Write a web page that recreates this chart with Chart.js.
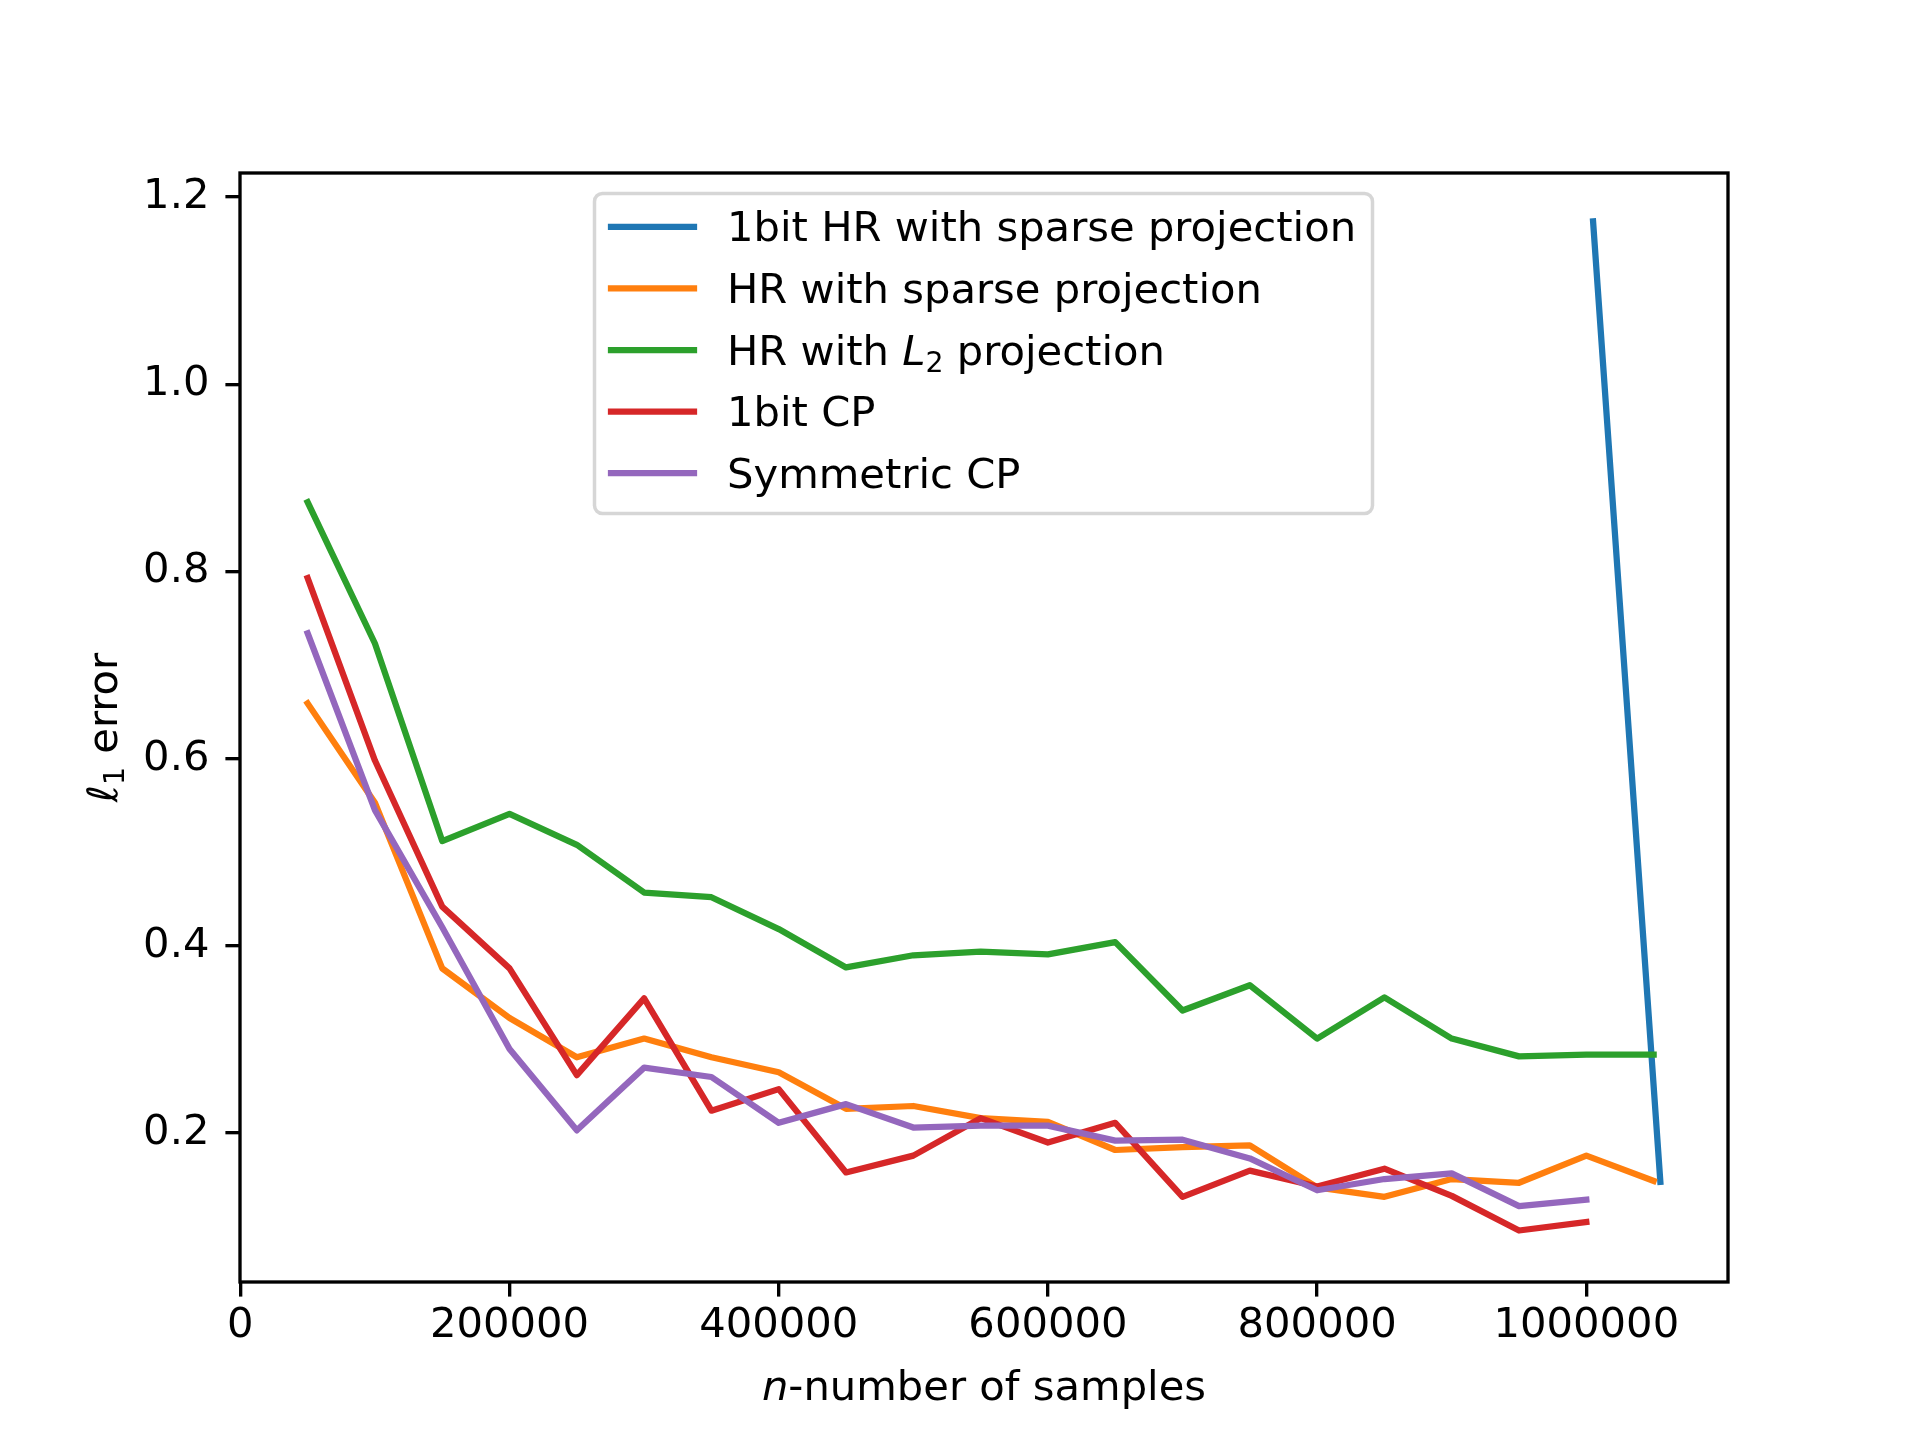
<!DOCTYPE html>
<html><head><meta charset="utf-8">
<script src="https://cdn.jsdelivr.net/npm/chart.js@4/dist/chart.umd.min.js"></script>
<style>html,body{margin:0;padding:0;background:#fff;}canvas{display:block;}</style>
</head><body>
<canvas id="c" width="1920" height="1440"></canvas>
<script>
// ---- data ----
const xLong = [50000,100000,150000,200000,250000,300000,350000,400000,450000,500000,550000,600000,650000,700000,750000,800000,850000,900000,950000,1000000,1050000];
const xShort = [50000,100000,150000,200000,250000,300000,350000,400000,450000,500000,550000,600000,650000,700000,750000,800000,850000,900000,950000,1000000];
const xBlue = [1005000,1055000];
const blueVals = [1.174,0.148];
const orangeVals = [0.659,0.553,0.376,0.323,0.281,0.301,0.281,0.265,0.226,0.229,0.216,0.212,0.182,0.185,0.187,0.142,0.132,0.151,0.147,0.176,0.149];
const greenVals = [0.874,0.723,0.512,0.541,0.508,0.457,0.452,0.418,0.377,0.390,0.394,0.391,0.404,0.331,0.358,0.301,0.345,0.301,0.282,0.284,0.284];
const redVals = [0.793,0.598,0.442,0.376,0.262,0.344,0.224,0.247,0.158,0.176,0.216,0.190,0.211,0.132,0.160,0.143,0.162,0.133,0.096,0.105];
const purpleVals = [0.734,0.545,0.420,0.290,0.203,0.270,0.260,0.211,0.231,0.206,0.208,0.208,0.192,0.193,0.173,0.139,0.151,0.157,0.122,0.129];
const seriesLabels = ['1bit HR with sparse projection','HR with sparse projection','HR with L2 projection','1bit CP','Symmetric CP'];
const xTicks = [0,200000,400000,600000,800000,1000000];
const yTicks = [0.2,0.4,0.6,0.8,1.0,1.2];
const colors = ['#1f77b4','#ff7f0e','#2ca02c','#d62728','#9467bd'];

const FONT = '"DejaVu Sans", "Liberation Sans", sans-serif';
const FS = 41.7;
const LW = 6.25;
const SPINE = 3.33;

const pts = (xs, ys) => xs.map((x, i) => ({x: x, y: ys[i]}));

function drawRich(ctx, parts, x, y, size, align) {
  const fonts = parts.map(p => (p.it ? 'italic ' : '') + (p.sub ? size * 0.68 : size) + 'px ' + FONT);
  let w = 0;
  const ws = parts.map((p, i) => { ctx.font = fonts[i]; const m = ctx.measureText(p.t).width; w += m; return m; });
  let cx = align === 'center' ? x - w / 2 : x;
  parts.forEach((p, i) => {
    ctx.font = fonts[i];
    ctx.fillText(p.t, cx, y + (p.sub ? size * 0.17 : 0));
    cx += ws[i];
  });
}

const legendRich = [
  [{t:'1bit HR with sparse projection'}],
  [{t:'HR with sparse projection'}],
  [{t:'HR with '},{t:'L',it:true},{t:'2',sub:true},{t:' projection'}],
  [{t:'1bit CP'}],
  [{t:'Symmetric CP'}]
];

const decor = {
  id: 'decor',
  afterDraw(chart) {
    const ctx = chart.ctx;
    const a = chart.chartArea;
    ctx.save();
    // spines
    ctx.strokeStyle = '#000';
    ctx.lineWidth = SPINE;
    ctx.strokeRect(a.left, a.top, a.right - a.left, a.bottom - a.top);
    // legend frame
    const bx = 594.5, by = 193.5, bw = 778, bh = 320, r = 8;
    ctx.beginPath();
    ctx.moveTo(bx + r, by);
    ctx.lineTo(bx + bw - r, by);
    ctx.arcTo(bx + bw, by, bx + bw, by + r, r);
    ctx.lineTo(bx + bw, by + bh - r);
    ctx.arcTo(bx + bw, by + bh, bx + bw - r, by + bh, r);
    ctx.lineTo(bx + r, by + bh);
    ctx.arcTo(bx, by + bh, bx, by + bh - r, r);
    ctx.lineTo(bx, by + r);
    ctx.arcTo(bx, by, bx + r, by, r);
    ctx.closePath();
    ctx.fillStyle = 'rgba(255,255,255,0.8)';
    ctx.fill();
    ctx.strokeStyle = 'rgba(204,204,204,0.8)';
    ctx.lineWidth = 3.5;
    ctx.stroke();
    // legend entries
    ctx.fillStyle = '#000';
    ctx.textBaseline = 'alphabetic';
    ctx.textAlign = 'left';
    for (let i = 0; i < seriesLabels.length; i++) {
      const ry = 226.8 + i * 61.6;
      ctx.beginPath();
      ctx.strokeStyle = colors[i];
      ctx.lineWidth = LW;
      ctx.lineCap = 'square';
      ctx.moveTo(611, ry);
      ctx.lineTo(694, ry);
      ctx.stroke();
      drawRich(ctx, legendRich[i], 727, ry + 14.5, FS, 'left');
    }
    // x label
    drawRich(ctx, [{t:'n',it:true},{t:'-number of samples'}], (a.left + a.right) / 2, 1400, FS, 'center');
    // y label
    ctx.translate(117.3, (a.top + a.bottom) / 2);
    ctx.rotate(-Math.PI / 2);
    drawRich(ctx, [{t:'\u2113',it:true},{t:'1',sub:true},{t:' error'}], 0, 0, FS, 'center');
    ctx.restore();
  }
};

const ds = (i, xs, ys, order) => ({
  label: seriesLabels[i],
  data: pts(xs, ys),
  borderColor: colors[i],
  backgroundColor: colors[i],
  borderWidth: LW,
  pointRadius: 0,
  pointHoverRadius: 0,
  fill: false,
  tension: 0,
  borderCapStyle: 'square',
  borderJoinStyle: 'round',
  order: order
});

new Chart(document.getElementById('c'), {
  type: 'line',
  data: {
    datasets: [
      ds(0, xBlue, blueVals, 5),
      ds(1, xLong, orangeVals, 4),
      ds(2, xLong, greenVals, 3),
      ds(3, xShort, redVals, 2),
      ds(4, xShort, purpleVals, 1)
    ]
  },
  options: {
    responsive: false,
    animation: false,
    devicePixelRatio: 1,
    layout: { padding: { top: 173, right: 192, left: 0, bottom: 0 } },
    plugins: { legend: { display: false }, tooltip: { enabled: false } },
    scales: {
      x: {
        type: 'linear',
        min: -250,
        max: 1105250,
        afterBuildTicks: s => { s.ticks = xTicks.map(v => ({value: v})); },
        afterFit: s => { s.height = 158; },
        ticks: { callback: v => String(v), font: { family: FONT, size: FS }, color: '#000', padding: 5, maxRotation: 0, autoSkip: false },
        grid: { drawOnChartArea: false, drawTicks: true, tickLength: 14.6, tickWidth: SPINE, tickColor: '#000', color: '#000', lineWidth: SPINE },
        border: { display: false }
      },
      y: {
        type: 'linear',
        min: 0.041,
        max: 1.2256,
        afterBuildTicks: s => { s.ticks = yTicks.map(v => ({value: v})); },
        afterFit: s => { s.width = 240; },
        ticks: { callback: v => Number(v).toFixed(1), font: { family: FONT, size: FS }, color: '#000', padding: 16, autoSkip: false },
        grid: { drawOnChartArea: false, drawTicks: true, tickLength: 14.6, tickWidth: SPINE, tickColor: '#000', color: '#000', lineWidth: SPINE },
        border: { display: false }
      }
    }
  },
  plugins: [decor]
});
</script>
</body></html>
